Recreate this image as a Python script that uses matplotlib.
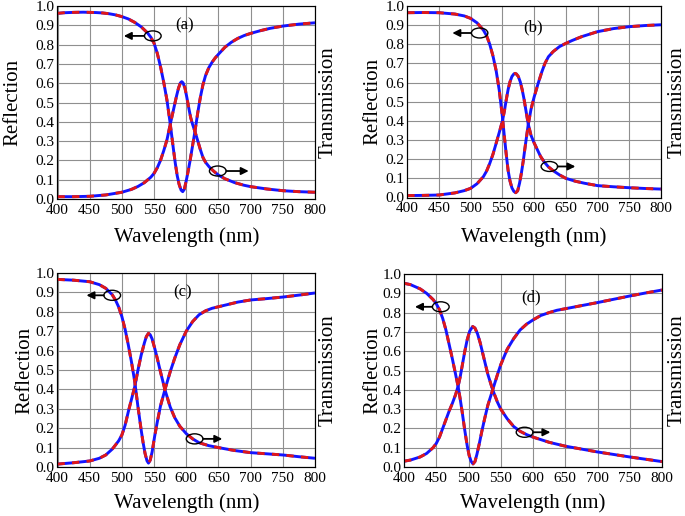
import numpy as np
import matplotlib
matplotlib.use("Agg")
import matplotlib.pyplot as plt
from matplotlib.patches import Ellipse

plt.rcParams['font.family'] = ['Liberation Serif', 'DejaVu Serif']

# ---------------- data ----------------
# panel (a)
wl_a_R = [400, 410, 425, 440, 450, 460, 470, 480, 490, 500, 510, 520, 530, 540, 545, 550, 555, 560,
          565, 570, 575, 580, 583, 586, 589, 592, 594.5, 597, 600, 603, 606, 610, 613.5, 618, 622,
          626, 630, 635, 640, 645, 650, 660, 670, 680, 690, 700, 715, 730, 750, 775, 800]
R_a = [0.962, 0.965, 0.967, 0.968, 0.967, 0.966, 0.964, 0.960, 0.954, 0.945, 0.933, 0.915, 0.892,
       0.860, 0.838, 0.807, 0.755, 0.686, 0.605, 0.513, 0.393, 0.260, 0.185, 0.120, 0.075, 0.046,
       0.038, 0.050, 0.095, 0.145, 0.200, 0.280, 0.350, 0.450, 0.528, 0.593, 0.640, 0.680, 0.708,
       0.731, 0.750, 0.786, 0.812, 0.832, 0.847, 0.858, 0.872, 0.884, 0.896, 0.906, 0.913]
wl_a_T = [400, 425, 450, 475, 500, 515, 525, 535, 545, 550, 555, 560, 565, 570, 575, 580, 585, 588,
          591, 593, 595, 598, 601, 604, 607, 610, 613.5, 618, 622, 626, 630, 636, 643, 650, 660, 675,
          690, 700, 725, 750, 775, 800]
T_a = [0.012, 0.012, 0.014, 0.021, 0.035, 0.050, 0.065, 0.085, 0.113, 0.133, 0.162, 0.200, 0.250,
       0.306, 0.385, 0.460, 0.535, 0.575, 0.602, 0.608, 0.602, 0.575, 0.525, 0.470, 0.420, 0.385,
       0.350, 0.300, 0.255, 0.215, 0.190, 0.165, 0.143, 0.124, 0.105, 0.085, 0.071, 0.064, 0.052,
       0.043, 0.038, 0.035]

# panel (b)
wl_b_R = [400, 425, 450, 475, 490, 500, 510, 520, 525, 530, 535, 540, 545, 550, 553, 556, 559, 562,
          565, 568, 571, 574, 577, 580, 583, 586, 590.6, 595, 600, 606.5, 612, 617, 622.5, 630, 640,
          650, 660, 675, 700, 725, 750, 775, 800]
R_b = [0.965, 0.966, 0.965, 0.958, 0.948, 0.935, 0.912, 0.874, 0.845, 0.800, 0.740, 0.664, 0.560,
       0.420, 0.320, 0.225, 0.140, 0.085, 0.050, 0.032, 0.025, 0.035, 0.075, 0.130, 0.195, 0.270,
       0.379, 0.460, 0.525, 0.598, 0.655, 0.700, 0.735, 0.762, 0.788, 0.805, 0.820, 0.840, 0.866,
       0.882, 0.892, 0.898, 0.902]
wl_b_T = [400, 425, 450, 475, 490, 500, 510, 520, 525, 530, 535, 540, 545, 550, 553, 556, 559, 562,
          565, 568, 570, 572, 575, 578, 581, 584, 587, 590.6, 595, 600, 605, 610, 616, 622.5, 630,
          640, 650, 665, 680, 700, 725, 750, 775, 800]
T_b = [0.010, 0.011, 0.013, 0.024, 0.036, 0.048, 0.072, 0.109, 0.138, 0.178, 0.225, 0.282, 0.340,
       0.400, 0.450, 0.510, 0.565, 0.605, 0.632, 0.645, 0.648, 0.645, 0.632, 0.605, 0.565, 0.515,
       0.455, 0.385, 0.325, 0.285, 0.250, 0.215, 0.185, 0.160, 0.140, 0.118, 0.100, 0.085, 0.074,
       0.062, 0.056, 0.051, 0.047, 0.044]

# panel (c)
wl_c_R = [400, 425, 450, 465, 475, 485, 490, 495, 500, 505, 510, 515, 520, 525, 530, 533, 536, 539,
          541.3, 544, 547, 551, 555, 560, 567, 575, 582, 590, 600, 610, 620, 630, 640, 650, 665, 680,
          700, 725, 750, 775, 800]
R_c = [0.967, 0.963, 0.955, 0.940, 0.921, 0.888, 0.861, 0.825, 0.775, 0.710, 0.629, 0.540, 0.440,
       0.310, 0.190, 0.125, 0.070, 0.032, 0.020, 0.035, 0.078, 0.160, 0.232, 0.315, 0.400, 0.490,
       0.560, 0.630, 0.700, 0.750, 0.785, 0.805, 0.818, 0.826, 0.838, 0.850, 0.861, 0.868, 0.876,
       0.886, 0.897]
wl_c_T = [400, 425, 450, 465, 475, 485, 490, 495, 500, 505, 510, 515, 520, 525, 530, 535, 538,
          541.3, 544, 547, 551, 555, 560, 567, 575, 582, 590, 600, 610, 620, 635, 650, 675, 700,
          725, 750, 775, 800]
T_c = [0.015, 0.022, 0.031, 0.045, 0.062, 0.092, 0.113, 0.135, 0.165, 0.215, 0.285, 0.350, 0.414,
       0.500, 0.577, 0.640, 0.672, 0.689, 0.682, 0.660, 0.612, 0.560, 0.490, 0.397, 0.310, 0.255,
       0.210, 0.172, 0.145, 0.125, 0.110, 0.100, 0.085, 0.074, 0.068, 0.062, 0.053, 0.045]

# panel (d)
wl_d_R = [400, 410, 425, 435, 445, 450, 455, 460, 465, 470, 475, 480, 484, 487, 490, 494, 498, 501,
          504, 507, 510, 513, 517, 521, 525, 530, 537.5, 545, 550, 560, 570, 580, 590, 600, 612,
          625, 637, 650, 675, 700, 725, 750, 775, 800]
R_d = [0.952, 0.945, 0.923, 0.900, 0.868, 0.846, 0.815, 0.770, 0.710, 0.635, 0.560, 0.480, 0.415,
       0.355, 0.290, 0.195, 0.110, 0.060, 0.030, 0.016, 0.028, 0.065, 0.125, 0.190, 0.250, 0.320,
       0.400, 0.480, 0.530, 0.610, 0.665, 0.710, 0.740, 0.762, 0.785, 0.800, 0.812, 0.820, 0.836,
       0.852, 0.869, 0.886, 0.902, 0.917]
wl_d_T = [400, 410, 425, 435, 445, 450, 455, 460, 465, 470, 475, 480, 484, 487, 490, 494, 498, 502,
          506.5, 510, 514, 518, 522, 526, 530, 537.5, 545, 550, 560, 570, 580, 590, 600, 625, 650,
          675, 700, 725, 750, 775, 800]
T_d = [0.030, 0.036, 0.052, 0.070, 0.100, 0.122, 0.155, 0.200, 0.245, 0.290, 0.330, 0.375, 0.420,
       0.465, 0.520, 0.595, 0.660, 0.705, 0.728, 0.720, 0.690, 0.645, 0.590, 0.535, 0.480, 0.400,
       0.335, 0.300, 0.250, 0.210, 0.185, 0.168, 0.155, 0.128, 0.108, 0.093, 0.078, 0.065, 0.052,
       0.040, 0.028]

panel_tags = ['(a)', '(b)', '(c)', '(d)']
x_ticks = [400, 450, 500, 550, 600, 650, 700, 750, 800]
y_ticks = [0.0, 0.1, 0.2, 0.3, 0.4, 0.5, 0.6, 0.7, 0.8, 0.9, 1.0]

# markers: (ellipse centre x, y, arrow tip x)
mark_R = [(548, 0.845, 503), (514, 0.859, 471), (485, 0.885, 445), (457, 0.830, 417)]
mark_T = [(649, 0.145, 697), (624, 0.162, 665), (613, 0.145, 656), (587, 0.180, 627)]
tag_pos = [(598, 0.90), (598, 0.89), (595, 0.90), (597, 0.88)]

# ---------------- layout ----------------
W, H = 685, 516
boxes = [(57.5, 315, 6, 199), (407.3, 661, 6, 197.5), (57.5, 315, 273, 467), (404, 662, 274, 467)]
ylab_x = [-0.172, -0.135, -0.126, -0.120]
xlab_y = [-0.197, -0.206, -0.186, -0.187]
tlab_x = [1.050, 1.062, 1.050, 1.057]

BLUE = '#1414ff'
RED = '#e01818'

fig = plt.figure(figsize=(W / 100, H / 100), dpi=100)

data = [(wl_a_R, R_a, wl_a_T, T_a), (wl_b_R, R_b, wl_b_T, T_b),
        (wl_c_R, R_c, wl_c_T, T_c), (wl_d_R, R_d, wl_d_T, T_d)]

for i, (l, r, t, b) in enumerate(boxes):
    ax = fig.add_axes([l / W, 1 - b / H, (r - l) / W, (b - t) / H])
    wr, rv, wt, tv = data[i]
    for xx, yy in ((wr, rv), (wt, tv)):
        ax.plot(xx, yy, color=BLUE, lw=2.1, solid_capstyle='butt', solid_joinstyle='round', zorder=3)
        ax.plot(xx, yy, color=RED, lw=2.1, dashes=(2.5, 2.5), dash_joinstyle='round', zorder=4)
    ax.set_xlim(400, 800)
    ax.set_ylim(0, 1)
    ax.set_xticks(x_ticks)
    ax.set_yticks(y_ticks)
    ax.set_yticklabels(['%.1f' % v for v in y_ticks])
    ax.tick_params(length=0, labelsize=11)
    ax.tick_params(axis='x', pad=3.5)
    ax.tick_params(axis='y', pad=2)
    ax.grid(True, color='#8f8f8f', lw=0.8)
    for s in ax.spines.values():
        s.set_color('#333333')
        s.set_linewidth(0.8)
    ax.set_xlabel('Wavelength (nm)', fontsize=15, va='center')
    ax.xaxis.set_label_coords(0.5, xlab_y[i])
    ax.set_ylabel('Reflection', fontsize=15, va='center')
    ax.yaxis.set_label_coords(ylab_x[i], 0.5)
    ax2 = ax.twinx()
    ax2.set_yticks([])
    ax2.set_ylabel('Transmission', fontsize=15, va='center')
    ax2.yaxis.set_label_coords(tlab_x[i], 0.5)
    ax.text(tag_pos[i][0], tag_pos[i][1], panel_tags[i], fontsize=12, ha='center', va='center')
    # markers
    for (cx, cy, tip), side in ((mark_R[i], -1), (mark_T[i], 1)):
        ax.add_patch(Ellipse((cx, cy), 26, 0.052, fill=False, ec='black', lw=1.0, zorder=6))
        ax.annotate('', xy=(tip, cy), xytext=(cx + side * 13, cy),
                    arrowprops=dict(arrowstyle='-|>', color='black', lw=1.3,
                                    mutation_scale=11, shrinkA=0, shrinkB=0), zorder=6)

fig.savefig('out.png', dpi=100)
